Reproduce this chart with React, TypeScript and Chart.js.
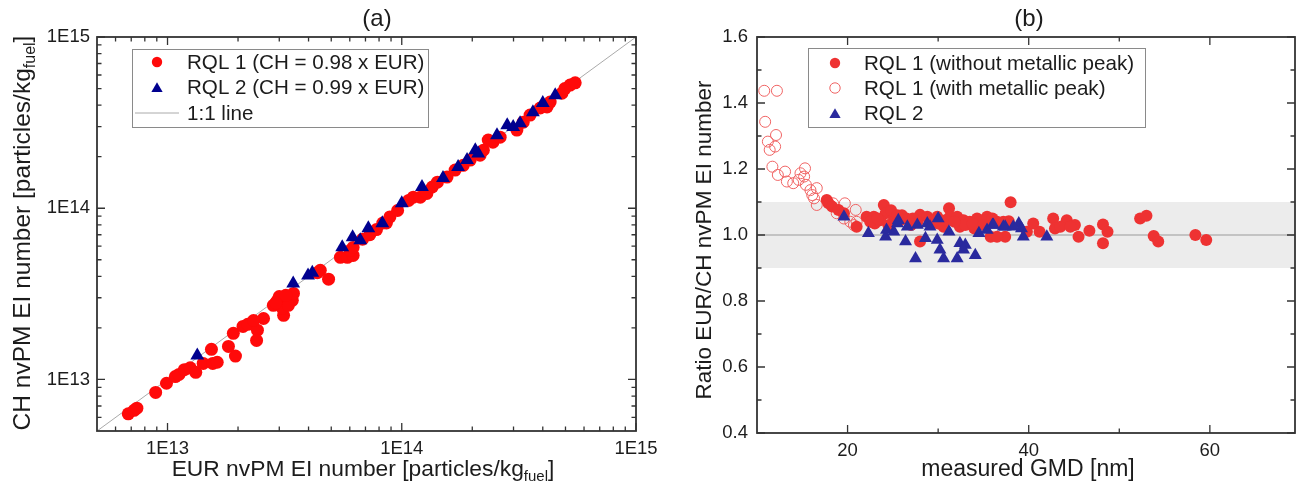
import React, { useEffect, useRef } from "react";
import { Chart, registerables } from "chart.js";

Chart.register(...registerables);

const FONT = "'Liberation Sans', Arial, sans-serif";
const TEXT = "#1c1c1c";
const AXIS = "#333333";

// ---------- Panel (a): CH vs EUR nvPM EI number ----------
const A_RQL1_EUR = [
  6.8e12, 7.2e12, 7.4e12, 8.9e12, 9.9e12, 1.08e13, 1.12e13, 1.18e13, 1.25e13, 1.32e13,
  1.42e13, 1.56e13, 1.63e13, 1.54e13, 1.82e13, 1.95e13, 1.91e13, 2.1e13, 2.2e13, 2.42e13,
  2.4e13, 2.57e13, 2.33e13, 2.83e13, 2.95e13, 3.13e13, 3.1e13, 3.24e13, 3.41e13, 3.45e13,
  3.0e13, 3.28e13, 2.9e13, 3.2e13, 4.49e13, 4.36e13, 4.87e13, 5.47e13, 5.86e13, 6.2e13,
  6.03e13, 6.2e13, 6.8e13, 7.3e13, 7.8e13, 8.6e13, 8.3e13, 8.9e13, 9.6e13, 1.07e14,
  1.12e14, 1.2e14, 1.28e14, 1.35e14, 1.42e14, 1.56e14, 1.69e14, 1.83e14, 1.96e14, 2.16e14,
  2.23e14, 2.34e14, 2.45e14, 2.63e14, 3.1e14, 3.3e14, 3.53e14, 3.9e14, 4.17e14, 4.3e14,
  4.83e14, 4.97e14, 5.23e14, 5.5e14,
];
const A_RQL1_CH = [
  6.3e12, 6.6e12, 6.8e12, 8.4e12, 9.5e12, 1.04e13, 1.07e13, 1.14e13, 1.17e13, 1.1e13,
  1.24e13, 1.24e13, 1.26e13, 1.5e13, 1.56e13, 1.37e13, 1.86e13, 2.04e13, 2.1e13, 1.94e13,
  1.69e13, 2.27e13, 2.21e13, 2.71e13, 2.9e13, 2.37e13, 2.6e13, 3.0e13, 2.9e13, 3.18e13,
  3.05e13, 2.71e13, 2.8e13, 3.1e13, 4.34e13, 4.2e13, 3.85e13, 5.17e13, 5.17e13, 5.3e13,
  5.67e13, 5.9e13, 6.6e13, 7.0e13, 7.5e13, 8.2e13, 8.2e13, 8.9e13, 9.7e13, 1.11e14,
  1.16e14, 1.16e14, 1.22e14, 1.33e14, 1.42e14, 1.52e14, 1.67e14, 1.78e14, 1.91e14, 2.04e14,
  2.18e14, 2.5e14, 2.43e14, 2.6e14, 2.86e14, 3.18e14, 3.5e14, 3.85e14, 3.9e14, 4.17e14,
  4.7e14, 5.0e14, 5.24e14, 5.4e14,
];
const A_RQL2_EUR = [
  1.34e13, 3.44e13, 3.98e13, 4.15e13, 5.57e13, 6.17e13, 6.65e13, 7.2e13, 8.26e13, 1.0e14,
  1.22e14, 1.5e14, 1.74e14, 1.9e14, 2.06e14, 2.12e14, 2.55e14, 2.82e14, 2.99e14, 3.2e14,
  3.63e14, 4.0e14, 4.52e14,
];
const A_RQL2_CH = [
  1.38e13, 3.64e13, 4.05e13, 4.2e13, 5.92e13, 6.76e13, 6.5e13, 7.64e13, 8.17e13, 1.07e14,
  1.33e14, 1.5e14, 1.74e14, 1.91e14, 2.18e14, 2.09e14, 2.67e14, 3.05e14, 2.98e14, 3.14e14,
  3.64e14, 4.11e14, 4.57e14,
];
const A_ONE_TO_ONE = [5e12, 1e15];
const A_RANGE = [5e12, 1e15];
const A_MAJOR = [1e13, 1e14, 1e15];
const A_MINOR = [
  6e12, 7e12, 8e12, 9e12,
  2e13, 3e13, 4e13, 5e13, 6e13, 7e13, 8e13, 9e13,
  2e14, 3e14, 4e14, 5e14, 6e14, 7e14, 8e14, 9e14,
];
const A_LABELS = ["RQL 1 (CH = 0.98 x EUR)", "RQL 2 (CH = 0.99 x EUR)", "1:1 line"];

// ---------- Panel (b): ratio vs GMD ----------
const B_RQL1_GMD = [
  17.7, 17.9, 18.3, 19.0, 19.6, 21.0, 22.1, 22.9, 24.0, 24.2, 23.6, 25.1, 24.5, 25.8, 28.0,
  27.7, 28.8, 31.2, 31.3, 32.1, 32.8, 33.5, 34.3, 35.4, 36.5, 28.0, 30.6, 32.4, 35.8, 37.4,
  29.9, 38.0, 37.2, 37.8, 36.5, 39.8, 40.5, 41.2, 42.7, 42.9, 44.2, 45.1, 45.5, 46.7, 48.2,
  48.7, 48.2, 52.3, 53.0, 53.8, 54.3, 58.4, 59.6, 43.5, 44.6, 23.0, 26.5, 27.0, 29.0, 30.0,
  33.0, 34.0, 26.0, 24.8, 22.5, 23.3, 25.5, 27.2, 30.8, 33.8, 35.0, 36.0, 31.8,
];
const B_RQL1_RATIO = [
  1.106, 1.096, 1.086, 1.076, 1.066, 1.025, 1.055, 1.055, 1.091, 1.066, 1.045, 1.055, 1.03, 1.045, 1.061,
  1.04, 1.055, 1.081, 1.055, 1.055, 1.045, 1.04, 1.05, 1.055, 1.04, 0.98, 1.025, 1.025, 0.995, 0.995,
  1.055, 1.099, 1.04, 1.042, 0.995, 1.01, 1.035, 1.01, 1.05, 1.02, 1.045, 1.03, 0.995, 1.013, 1.032,
  1.01, 0.975, 1.05, 1.058, 0.997, 0.98, 1.0, 0.985, 1.025, 1.025, 1.035, 1.05, 1.03, 1.045, 1.035,
  1.03, 1.02, 1.06, 1.075, 1.04, 1.05, 1.06, 1.05, 1.045, 1.035, 1.03, 1.05, 1.04,
];
const B_RQL1M_GMD = [
  10.8, 12.2, 10.9, 12.1, 11.2, 12.0, 11.4, 11.7, 12.3, 13.1, 13.3, 14.0, 14.8, 15.3, 15.2,
  14.6, 15.4, 15.9, 16.6, 16.1, 16.3, 16.6, 18.4, 19.7, 18.8, 20.3, 20.9, 21.0, 19.6, 20.7,
];
const B_RQL1M_RATIO = [
  1.437, 1.437, 1.343, 1.303, 1.283, 1.268, 1.258, 1.207, 1.182, 1.192, 1.162, 1.157, 1.187, 1.202, 1.177,
  1.167, 1.152, 1.136, 1.142, 1.121, 1.111, 1.091, 1.096, 1.096, 1.066, 1.04, 1.076, 1.04, 1.05, 1.03,
];
const B_RQL2_GMD = [
  19.6, 22.3, 24.2, 24.3, 25.1, 25.5, 25.6, 26.4, 26.6, 27.7, 28.8, 29.1, 30.0, 28.6, 29.9,
  30.2, 27.5, 30.6, 32.1, 32.4, 33.0, 32.8, 34.1, 31.2, 34.5, 35.4, 36.0, 37.2, 36.1, 37.4,
  38.9, 39.2, 39.4, 42.0, 38.3,
];
const B_RQL2_RATIO = [
  1.055, 1.005, 0.995, 1.015, 1.01, 1.035, 1.045, 0.98, 1.025, 1.03, 1.035, 1.025, 1.05, 0.99, 0.985,
  0.955, 0.929, 0.929, 0.929, 0.975, 0.97, 0.955, 0.939, 1.01, 1.005, 1.015, 1.03, 1.025, 1.03, 1.025,
  1.035, 1.02, 0.995, 0.995, 1.025,
];
const B_X_RANGE = [10, 69.4];
const B_Y_RANGE = [0.4, 1.6];
const B_X_MAJOR = [20, 40, 60];
const B_X_MINOR = [30, 50];
const B_Y_MAJOR = [0.4, 0.6, 0.8, 1.0, 1.2, 1.4, 1.6];
const B_Y_MINOR = [0.5, 0.7, 0.9, 1.1, 1.3, 1.5];
const B_BAND = [0.9, 1.1];
const B_REF = 1.0;
const B_LABELS = ["RQL 1 (without metallic peak)", "RQL 1 (with metallic peak)", "RQL 2"];

type Part = { t: string; sub?: boolean };

function drawRich(ctx: CanvasRenderingContext2D, parts: Part[], cx: number, cy: number, rotate: boolean, size: number) {
  ctx.save();
  ctx.translate(cx, cy);
  if (rotate) ctx.rotate(-Math.PI / 2);
  const big = `${size}px ${FONT}`;
  const small = `${Math.round(size * 0.66)}px ${FONT}`;
  let total = 0;
  const widths = parts.map((p) => {
    ctx.font = p.sub ? small : big;
    const w = ctx.measureText(p.t).width;
    total += w;
    return w;
  });
  let x = -total / 2;
  ctx.textBaseline = "middle";
  ctx.textAlign = "left";
  ctx.fillStyle = TEXT;
  parts.forEach((p, i) => {
    ctx.font = p.sub ? small : big;
    ctx.fillText(p.t, x, p.sub ? size * 0.32 : 0);
    x += widths[i];
  });
  ctx.restore();
}

function drawMarker(ctx: CanvasRenderingContext2D, kind: string, x: number, y: number, r: number, color: string, x0 = 0, x1 = 0) {
  ctx.save();
  if (kind === "circle") {
    ctx.fillStyle = color;
    ctx.beginPath();
    ctx.arc(x, y, r, 0, Math.PI * 2);
    ctx.fill();
  } else if (kind === "ring") {
    ctx.strokeStyle = color;
    ctx.lineWidth = 1;
    ctx.beginPath();
    ctx.arc(x, y, r, 0, Math.PI * 2);
    ctx.stroke();
  } else if (kind === "triangle") {
    ctx.fillStyle = color;
    ctx.beginPath();
    for (let k = 0; k < 3; k++) {
      const ang = (k * 2 * Math.PI) / 3;
      const px = x + Math.sin(ang) * r;
      const py = y - Math.cos(ang) * r + r * 0.25;
      if (k === 0) ctx.moveTo(px, py);
      else ctx.lineTo(px, py);
    }
    ctx.closePath();
    ctx.fill();
  } else if (kind === "line") {
    ctx.strokeStyle = color;
    ctx.lineWidth = 1;
    ctx.beginPath();
    ctx.moveTo(x0, y);
    ctx.lineTo(x1, y);
    ctx.stroke();
  }
  ctx.restore();
}

type PanelCfg = {
  key: string;
  xMajor: number[];
  xMinor: number[];
  yMajor: number[];
  yMinor: number[];
  band?: number[];
  ref?: number;
  title: string;
  titleX: number;
  xTitle: Part[];
  xTitleX: number;
  xTitleSize: number;
  yTitle: Part[];
  yTitleX: number;
  yTitleY: number;
  yTitleSize: number;
  legend: {
    box: number[]; // left, top, right, bottom
    rows: number[];
    symX: number;
    textX: number;
    items: { ds: number; kind: string; r: number; color: string; x0?: number; x1?: number }[];
  };
};

function makePanel(cfg: PanelCfg) {
  return {
    id: "panel" + cfg.key,
    beforeDatasetsDraw(chart: any) {
      const { ctx, chartArea: a } = chart;
      const ys = chart.scales.y;
      ctx.save();
      if (cfg.band) {
        const t = ys.getPixelForValue(cfg.band[1]);
        const b = ys.getPixelForValue(cfg.band[0]);
        ctx.fillStyle = "#ececec";
        ctx.fillRect(a.left, t, a.right - a.left, b - t);
      }
      if (cfg.ref !== undefined) {
        const p = ys.getPixelForValue(cfg.ref);
        ctx.strokeStyle = "#9a9a9a";
        ctx.lineWidth = 1;
        ctx.beginPath();
        ctx.moveTo(a.left, p);
        ctx.lineTo(a.right, p);
        ctx.stroke();
      }
      ctx.restore();
    },
    afterDraw(chart: any) {
      const { ctx, chartArea: a } = chart;
      const xs = chart.scales.x;
      const ys = chart.scales.y;
      ctx.save();
      ctx.strokeStyle = AXIS;
      ctx.lineWidth = 1.3;
      const xt = (vals: number[], len: number) => {
        vals.forEach((v) => {
          const p = xs.getPixelForValue(v);
          if (p < a.left - 0.5 || p > a.right + 0.5) return;
          ctx.beginPath();
          ctx.moveTo(p, a.bottom);
          ctx.lineTo(p, a.bottom - len);
          ctx.moveTo(p, a.top);
          ctx.lineTo(p, a.top + len);
          ctx.stroke();
        });
      };
      const yt = (vals: number[], len: number) => {
        vals.forEach((v) => {
          const p = ys.getPixelForValue(v);
          if (p < a.top - 0.5 || p > a.bottom + 0.5) return;
          ctx.beginPath();
          ctx.moveTo(a.left, p);
          ctx.lineTo(a.left + len, p);
          ctx.moveTo(a.right, p);
          ctx.lineTo(a.right - len, p);
          ctx.stroke();
        });
      };
      xt(cfg.xMajor, 8);
      xt(cfg.xMinor, 4.5);
      yt(cfg.yMajor, 8);
      yt(cfg.yMinor, 4.5);
      ctx.lineWidth = 1.8;
      ctx.strokeRect(a.left, a.top, a.right - a.left, a.bottom - a.top);
      ctx.restore();

      // legend
      const L = cfg.legend;
      ctx.save();
      ctx.fillStyle = "#ffffff";
      ctx.fillRect(L.box[0], L.box[1], L.box[2] - L.box[0], L.box[3] - L.box[1]);
      ctx.strokeStyle = "#8a8a8a";
      ctx.lineWidth = 1;
      ctx.strokeRect(L.box[0] + 0.5, L.box[1] + 0.5, L.box[2] - L.box[0], L.box[3] - L.box[1]);
      ctx.font = `20.6px ${FONT}`;
      ctx.textBaseline = "middle";
      ctx.textAlign = "left";
      L.items.forEach((it, i) => {
        const y = L.rows[i];
        drawMarker(ctx, it.kind, L.symX, y, it.r, it.color, it.x0 ?? 0, it.x1 ?? 0);
        ctx.fillStyle = TEXT;
        ctx.fillText(chart.data.datasets[it.ds].label, L.textX, y + 1);
      });
      ctx.restore();

      // titles
      ctx.save();
      ctx.fillStyle = TEXT;
      ctx.font = `24px ${FONT}`;
      ctx.textAlign = "center";
      ctx.textBaseline = "middle";
      ctx.fillText(cfg.title, cfg.titleX, 19);
      ctx.restore();
      drawRich(ctx, cfg.xTitle, cfg.xTitleX, 470, false, cfg.xTitleSize);
      drawRich(ctx, cfg.yTitle, cfg.yTitleX, cfg.yTitleY, true, cfg.yTitleSize);
    },
  };
}

const RED_A = "#ff0a0a";
const BLUE_A = "#00008f";
const RED_B = "#ee3232";
const RING_B = "#f06464";
const BLUE_B = "#2a2a9e";

function buildA(): any {
  const panel = makePanel({
    key: "a",
    xMajor: A_MAJOR,
    xMinor: A_MINOR,
    yMajor: A_MAJOR,
    yMinor: A_MINOR,
    title: "(a)",
    titleX: 377,
    xTitle: [{ t: "EUR nvPM EI number [particles/kg" }, { t: "fuel", sub: true }, { t: "]" }],
    xTitleX: 363,
    xTitleSize: 22.8,
    yTitle: [{ t: "CH nvPM EI number [particles/kg" }, { t: "fuel", sub: true }, { t: "]" }],
    yTitleX: 23,
    yTitleY: 233,
    yTitleSize: 24.5,
    legend: {
      box: [132, 49, 428, 127],
      rows: [62, 87, 113],
      symX: 157,
      textX: 187,
      items: [
        { ds: 0, kind: "circle", r: 5.2, color: RED_A },
        { ds: 1, kind: "triangle", r: 6.5, color: BLUE_A },
        { ds: 2, kind: "line", r: 0, color: "#aaaaaa", x0: 135, x1: 179 },
      ],
    },
  });
  const logAxis = (afterFit: (s: any) => void) => ({
    type: "logarithmic",
    min: A_RANGE[0],
    max: A_RANGE[1],
    afterBuildTicks: (s: any) => {
      s.ticks = A_MAJOR.map((v) => ({ value: v }));
    },
    afterFit,
    grid: { display: false, drawTicks: false },
    border: { display: false },
    ticks: {
      autoSkip: false,
      maxRotation: 0,
      padding: 7,
      color: TEXT,
      font: { family: FONT, size: 18.5 },
      callback: (v: any) => "1E" + Math.round(Math.log10(Number(v))),
    },
  });
  return {
    type: "scatter",
    data: {
      datasets: [
        {
          label: A_LABELS[0],
          data: A_RQL1_EUR.map((x, i) => ({ x, y: A_RQL1_CH[i] })),
          pointStyle: "circle",
          pointRadius: 6.5,
          backgroundColor: RED_A,
          borderColor: RED_A,
          borderWidth: 0,
          order: 1,
        },
        {
          label: A_LABELS[1],
          data: A_RQL2_EUR.map((x, i) => ({ x, y: A_RQL2_CH[i] })),
          pointStyle: "triangle",
          pointRadius: 8,
          backgroundColor: BLUE_A,
          borderColor: BLUE_A,
          borderWidth: 0,
          order: 0,
        },
        {
          label: A_LABELS[2],
          data: A_ONE_TO_ONE.map((v) => ({ x: v, y: v })),
          showLine: true,
          pointRadius: 0,
          borderColor: "#aaaaaa",
          borderWidth: 1,
          order: 2,
        },
      ],
    },
    options: {
      animation: false,
      responsive: false,
      events: [],
      layout: { padding: { left: 0, top: 37, right: 690 - 636, bottom: 0 } },
      plugins: { legend: { display: false }, tooltip: { enabled: false }, title: { display: false } },
      scales: {
        x: { ...logAxis((s: any) => { s.height = 496 - 431; }), position: "bottom" },
        y: { ...logAxis((s: any) => { s.width = 97; }), position: "left" },
      },
    },
    plugins: [panel],
  };
}

function buildB(): any {
  const panel = makePanel({
    key: "b",
    xMajor: B_X_MAJOR,
    xMinor: B_X_MINOR,
    yMajor: B_Y_MAJOR,
    yMinor: B_Y_MINOR,
    band: B_BAND,
    ref: B_REF,
    title: "(b)",
    titleX: 381,
    xTitle: [{ t: "measured GMD [nm]" }],
    xTitleX: 380,
    xTitleSize: 23,
    yTitle: [{ t: "Ratio EUR/CH nvPM EI number" }],
    yTitleX: 57,
    yTitleY: 240,
    yTitleSize: 22.5,
    legend: {
      box: [160, 48, 497, 127],
      rows: [63, 88, 113],
      symX: 187,
      textX: 216,
      items: [
        { ds: 0, kind: "circle", r: 5.2, color: RED_B },
        { ds: 1, kind: "ring", r: 5.2, color: RING_B },
        { ds: 2, kind: "triangle", r: 6.5, color: BLUE_B },
      ],
    },
  });
  return {
    type: "scatter",
    data: {
      datasets: [
        {
          label: B_LABELS[0],
          data: B_RQL1_GMD.map((x, i) => ({ x, y: B_RQL1_RATIO[i] })),
          pointStyle: "circle",
          pointRadius: 6,
          backgroundColor: RED_B,
          borderColor: RED_B,
          borderWidth: 0,
          order: 1,
        },
        {
          label: B_LABELS[1],
          data: B_RQL1M_GMD.map((x, i) => ({ x, y: B_RQL1M_RATIO[i] })),
          pointStyle: "circle",
          pointRadius: 5.5,
          backgroundColor: "rgba(255,255,255,0)",
          borderColor: RING_B,
          borderWidth: 1,
          order: 2,
        },
        {
          label: B_LABELS[2],
          data: B_RQL2_GMD.map((x, i) => ({ x, y: B_RQL2_RATIO[i] })),
          pointStyle: "triangle",
          pointRadius: 7.5,
          backgroundColor: BLUE_B,
          borderColor: BLUE_B,
          borderWidth: 0,
          order: 0,
        },
      ],
    },
    options: {
      animation: false,
      responsive: false,
      events: [],
      layout: { padding: { left: 0, top: 37, right: 660 - 647, bottom: 0 } },
      plugins: { legend: { display: false }, tooltip: { enabled: false }, title: { display: false } },
      scales: {
        x: {
          type: "linear",
          position: "bottom",
          min: B_X_RANGE[0],
          max: B_X_RANGE[1],
          afterBuildTicks: (s: any) => {
            s.ticks = B_X_MAJOR.map((v) => ({ value: v }));
          },
          afterFit: (s: any) => {
            s.height = 496 - 433;
          },
          grid: { display: false, drawTicks: false },
          border: { display: false },
          ticks: {
            autoSkip: false,
            maxRotation: 0,
            padding: 7,
            color: TEXT,
            font: { family: FONT, size: 18.5 },
            callback: (v: any) => String(Math.round(Number(v))),
          },
        },
        y: {
          type: "linear",
          position: "left",
          min: B_Y_RANGE[0],
          max: B_Y_RANGE[1],
          afterBuildTicks: (s: any) => {
            s.ticks = B_Y_MAJOR.map((v) => ({ value: v }));
          },
          afterFit: (s: any) => {
            s.width = 109;
          },
          grid: { display: false, drawTicks: false },
          border: { display: false },
          ticks: {
            autoSkip: false,
            padding: 9,
            color: TEXT,
            font: { family: FONT, size: 18.5 },
            callback: (v: any) => Number(v).toFixed(1),
          },
        },
      },
    },
    plugins: [panel],
  };
}

export default function App() {
  const refA = useRef<HTMLCanvasElement>(null);
  const refB = useRef<HTMLCanvasElement>(null);
  useEffect(() => {
    const ca = new Chart(refA.current as HTMLCanvasElement, buildA());
    const cb = new Chart(refB.current as HTMLCanvasElement, buildB());
    return () => {
      ca.destroy();
      cb.destroy();
    };
  }, []);
  return (
    <div
      style={{
        position: "absolute",
        left: 0,
        top: 0,
        width: 1296,
        height: 496,
        background: "#ffffff",
        overflow: "hidden",
      }}
    >
      <canvas ref={refA} width={690} height={496} style={{ position: "absolute", left: 0, top: 0 }} />
      <canvas ref={refB} width={660} height={496} style={{ position: "absolute", left: 648, top: 0 }} />
    </div>
  );
}
